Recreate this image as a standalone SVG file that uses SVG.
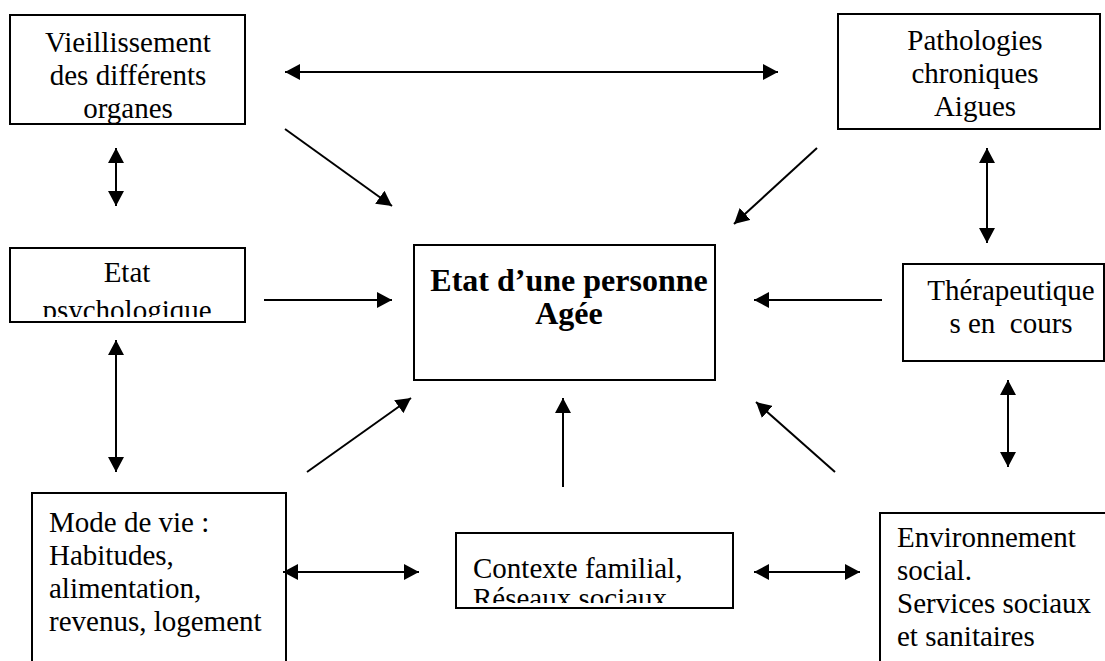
<svg xmlns="http://www.w3.org/2000/svg" width="1105" height="661" viewBox="0 0 1105 661">
<style>
.box{fill:#fff;stroke:#000;stroke-width:2}
text{font-family:'Liberation Serif','Times New Roman','DejaVu Serif',serif;font-size:29px;fill:#000}
.c{text-anchor:middle}
.b{font-weight:bold;font-size:32px}
.ln{stroke:#000;stroke-width:2;fill:none}
</style>
<defs>
<marker id="ah" viewBox="0 0 15 16" refX="15" refY="8" markerWidth="15" markerHeight="16" markerUnits="userSpaceOnUse" orient="auto-start-reverse">
<path d="M0,0 L15,8 L0,16 Z" fill="#000"/>
</marker>
<clipPath id="c1"><rect x="10" y="15" width="235" height="108"/></clipPath>
<clipPath id="c2"><rect x="838" y="14" width="262" height="114"/></clipPath>
<clipPath id="c3"><rect x="10" y="248" width="235" height="69"/></clipPath>
<clipPath id="c6"><rect x="456" y="533" width="277" height="70"/></clipPath>
</defs>
<rect width="1105" height="661" fill="#fff"/>
<g id="n1">
<rect class="box" x="10" y="15" width="235" height="109"/>
<g clip-path="url(#c1)"><text class="c" font-family="Liberation Serif, serif"><tspan x="128" y="52">Vieillissement</tspan><tspan x="128" y="85">des différents</tspan><tspan x="128" y="118">organes</tspan></text></g>
</g>
<g id="n2">
<rect class="box" x="838" y="14" width="262" height="115"/>
<g clip-path="url(#c2)"><text class="c" font-family="Liberation Serif, serif"><tspan x="975" y="50">Pathologies</tspan><tspan x="975" y="83">chroniques</tspan><tspan x="975" y="116">Aigues</tspan></text></g>
</g>
<g id="n3">
<rect class="box" x="10" y="248" width="235" height="74"/>
<g clip-path="url(#c3)"><text class="c" font-family="Liberation Serif, serif"><tspan x="127" y="282">Etat</tspan><tspan x="127" y="320">psychologique</tspan></text></g>
</g>
<g id="n4">
<rect class="box" x="903" y="264" width="201" height="97"/>
<text class="c" font-family="Liberation Serif, serif"><tspan x="1011" y="300">Thérapeutique</tspan><tspan x="1011" y="333" xml:space="preserve">s en  cours</tspan></text>
</g>
<g id="n5">
<rect class="box" x="32" y="493" width="254" height="180"/>
<text font-family="Liberation Serif, serif"><tspan x="49" y="532">Mode de vie :</tspan><tspan x="49" y="565">Habitudes,</tspan><tspan x="49" y="598">alimentation,</tspan><tspan x="49" y="631">revenus, logement</tspan></text>
</g>
<g id="n6">
<rect class="box" x="456" y="533" width="277" height="75"/>
<g clip-path="url(#c6)"><text font-family="Liberation Serif, serif"><tspan x="473" y="578">Contexte familial,</tspan><tspan x="473" y="608">Réseaux sociaux</tspan></text></g>
</g>
<g id="n7">
<rect class="box" x="880" y="513" width="240" height="170"/>
<text font-family="Liberation Serif, serif"><tspan x="897" y="547">Environnement</tspan><tspan x="897" y="580">social.</tspan><tspan x="897" y="613">Services sociaux</tspan><tspan x="897" y="646">et sanitaires</tspan></text>
</g>
<g id="n8">
<rect class="box" x="414" y="245" width="301" height="135"/>
<text class="c b" font-family="Liberation Serif, serif"><tspan x="569" y="291">Etat d’une personne</tspan><tspan x="569" y="324">Agée</tspan></text>
</g>
<g id="connectors">
<line class="ln" x1="285" y1="72" x2="778" y2="72" marker-start="url(#ah)" marker-end="url(#ah)"/>
<line class="ln" x1="116" y1="148" x2="116" y2="206" marker-start="url(#ah)" marker-end="url(#ah)"/>
<line class="ln" x1="285" y1="129" x2="392" y2="206" marker-end="url(#ah)"/>
<line class="ln" x1="817" y1="148" x2="734" y2="224" marker-end="url(#ah)"/>
<line class="ln" x1="987" y1="148" x2="987" y2="243" marker-start="url(#ah)" marker-end="url(#ah)"/>
<line class="ln" x1="264" y1="300" x2="392" y2="300" marker-end="url(#ah)"/>
<line class="ln" x1="882" y1="300" x2="754" y2="300" marker-end="url(#ah)"/>
<line class="ln" x1="116" y1="340" x2="116" y2="472" marker-start="url(#ah)" marker-end="url(#ah)"/>
<line class="ln" x1="1008" y1="380" x2="1008" y2="467" marker-start="url(#ah)" marker-end="url(#ah)"/>
<line class="ln" x1="307" y1="472" x2="411" y2="398" marker-end="url(#ah)"/>
<line class="ln" x1="563" y1="487" x2="563" y2="398" marker-end="url(#ah)"/>
<line class="ln" x1="835" y1="472" x2="756" y2="402" marker-end="url(#ah)"/>
<line class="ln" x1="283" y1="572" x2="419" y2="572" marker-start="url(#ah)" marker-end="url(#ah)"/>
<line class="ln" x1="754" y1="572" x2="860" y2="572" marker-start="url(#ah)" marker-end="url(#ah)"/>
</g>
</svg>
